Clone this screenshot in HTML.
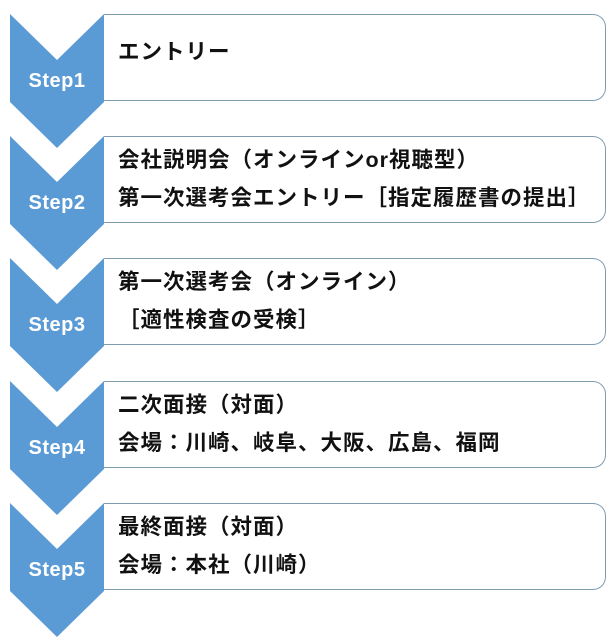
<!DOCTYPE html>
<html><head><meta charset="utf-8"><style>
body{margin:0;background:#fff;width:616px;height:642px;position:relative;overflow:hidden;font-family:"Liberation Sans","Noto Sans CJK JP",sans-serif}
.box{position:absolute;left:104px;width:502px;height:87px;border:1.5px solid #7f9cb0;border-left:none;border-radius:0 13px 13px 0;box-sizing:border-box;background:#fff}
.t{position:absolute;left:118px;font-size:21.5px;letter-spacing:1px;font-weight:bold;color:#111;white-space:nowrap;line-height:26px}
.s{position:absolute;width:94px;left:10px;text-align:center;color:#fff;font-weight:bold;font-size:20px;letter-spacing:0.5px}
svg{position:absolute;left:0;top:0}
</style></head><body>
<svg width="616" height="642">
<g fill="#5b9bd5">
<polygon points="10,14 57,60 104,14 104,102 57,148 10,102"/>
<polygon points="10,136 57,182 104,136 104,224 57,270 10,224"/>
<polygon points="10,258 57,304 104,258 104,346 57,392 10,346"/>
<polygon points="10,381 57,427 104,381 104,469 57,515 10,469"/>
<polygon points="10,503 57,549 104,503 104,591 57,637 10,591"/>
</g></svg>
<div class="box" style="top:14px"></div>
<div class="box" style="top:136px"></div>
<div class="box" style="top:258px"></div>
<div class="box" style="top:381px"></div>
<div class="box" style="top:503px"></div>
<div class="s" style="top:70px">Step1</div>
<div class="s" style="top:192px">Step2</div>
<div class="s" style="top:314px">Step3</div>
<div class="s" style="top:437px">Step4</div>
<div class="s" style="top:559px">Step5</div>
<div class="t" style="top:39px">エントリー</div>
<div class="t" style="top:147px">会社説明会（オンラインor視聴型）</div>
<div class="t" style="top:185px">第一次選考会エントリー［指定履歴書の提出］</div>
<div class="t" style="top:269px">第一次選考会（オンライン）</div>
<div class="t" style="top:307px">［適性検査の受検］</div>
<div class="t" style="top:392px">二次面接（対面）</div>
<div class="t" style="top:430px">会場：川崎、岐阜、大阪、広島、福岡</div>
<div class="t" style="top:514px">最終面接（対面）</div>
<div class="t" style="top:552px">会場：本社（川崎）</div>
</body></html>
